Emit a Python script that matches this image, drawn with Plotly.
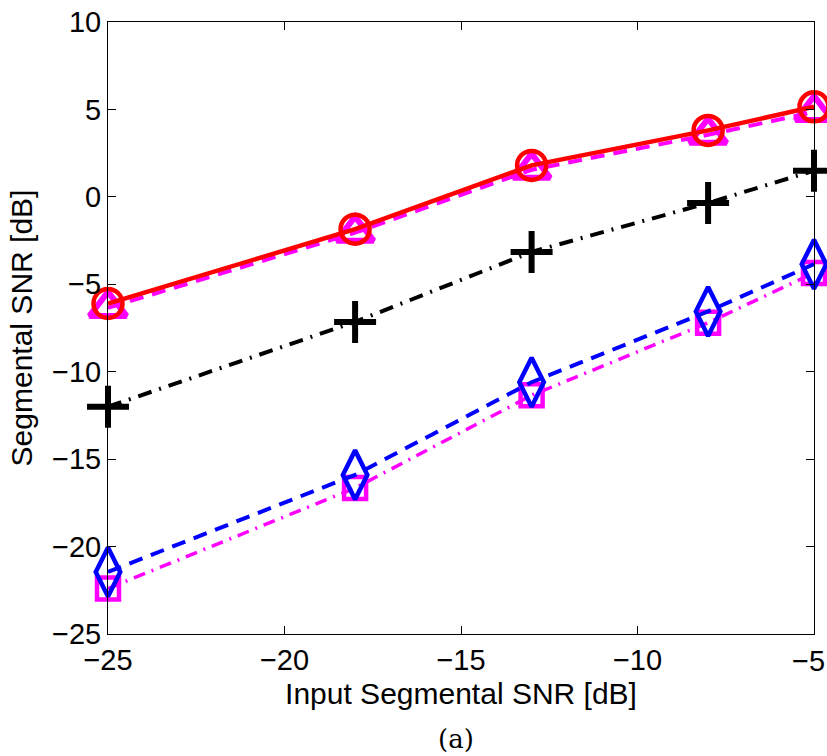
import plotly.graph_objects as go

x_vals = [-25, -18, -13, -8, -5]
red_circle = [-6.1, -1.85, 1.8, 3.8, 5.15]
magenta_triangle = [-6.35, -2.05, 1.55, 3.55, 4.85]
black_plus = [-12.0, -7.15, -3.15, -0.35, 1.5]
blue_diamond = [-21.45, -15.9, -10.6, -6.55, -3.85]
magenta_square = [-22.4, -16.65, -11.35, -7.2, -4.35]

x_ticks = [-25, -20, -15, -10, -5]
x_tick_text = ["\u221225", "\u221220", "\u221215", "\u221210", "\u22125"]
y_ticks = [-25, -20, -15, -10, -5, 0, 5, 10]
y_tick_text = ["\u221225", "\u221220", "\u221215", "\u221210", "\u22125", "0", "5", "10"]

fig = go.Figure()

def add(y, color, dash, symbol, size, lw, mlw):
    fig.add_trace(go.Scatter(
        x=x_vals, y=y, mode="lines+markers", cliponaxis=False,
        line=dict(color=color, width=lw, dash=dash),
        marker=dict(symbol=symbol, size=size, color=color,
                    line=dict(color=color, width=mlw)),
        showlegend=False))

add(magenta_square, "#FF00FF", "12px,7px,2px,7px", "square-open", 22, 3.5, 4.5)
add(blue_diamond, "#0000FF", "14px,9px", "diamond-tall-open", 35, 4, 4.5)
add(black_plus, "#000000", "14px,8px,2px,8px", "cross-thin", 30, 4, 6)
add(magenta_triangle, "#FF00FF", "14px,9px", "triangle-up-open", 32, 4, 6)
add(red_circle, "#FF0000", "solid", "circle-open", 29, 4.5, 4.5)

font_main = "Liberation Sans, Arial"
tick_font = dict(family=font_main, size=29, color="black")
axis_common = dict(
    showgrid=False, zeroline=False, showline=True, linecolor="black",
    linewidth=1, mirror="ticks", ticks="inside", ticklen=8, tickcolor="black",
    automargin=False,
    tickfont=tick_font,
)

# last x tick label drawn separately so it stays inside the page
fig.update_xaxes(range=[-25, -5], tickvals=x_ticks,
                 ticktext=x_tick_text[:-1] + [""],
                 title=dict(text="Input Segmental SNR [dB]",
                            font=dict(family=font_main, size=30, color="black"),
                            standoff=8),
                 **axis_common)
fig.update_yaxes(range=[-25, 10], tickvals=y_ticks,
                 ticktext=y_tick_text,
                 title=dict(text="Segmental SNR [dB]",
                            font=dict(family=font_main, size=30, color="black"),
                            standoff=10),
                 **axis_common)

fig.add_annotation(text=x_tick_text[-1], xref="x", x=x_ticks[-1], yref="paper", y=0,
                   xanchor="center", yanchor="middle", xshift=-6, yshift=-27,
                   showarrow=False, font=tick_font)

fig.add_annotation(text="(a)", xref="paper", yref="paper", x=0.493, y=-0.172,
                   xanchor="center", yanchor="middle", showarrow=False,
                   font=dict(family="DejaVu Serif, Liberation Serif", size=26, color="black"))

fig.update_layout(
    width=827, height=756,
    margin=dict(l=108, r=13, t=22, b=122),
    paper_bgcolor="white", plot_bgcolor="white",
)

fig.write_html("out.html")
